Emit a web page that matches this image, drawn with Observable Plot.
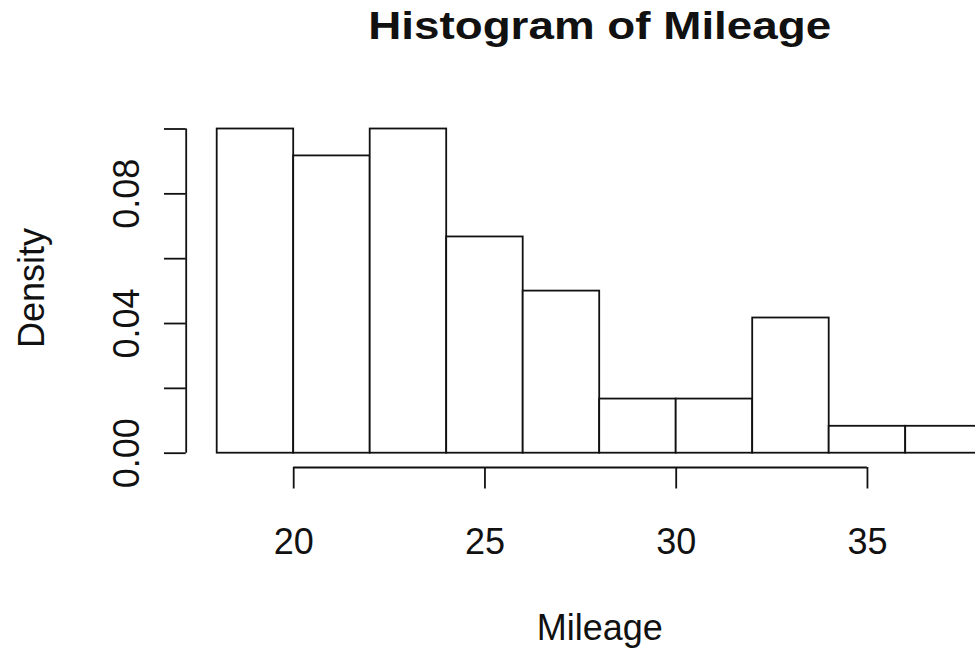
<!DOCTYPE html>
<html>
<head>
<meta charset="utf-8">
<script src="https://cdn.jsdelivr.net/npm/d3@7"></script>
<script src="https://cdn.jsdelivr.net/npm/@observablehq/plot@0.6"></script>
<style>
  html, body { margin: 0; padding: 0; background: #fff; overflow: hidden; }
</style>
</head>
<body>
<div id="chart"></div>
<script>
// ---- data ----
const binEdges = [18, 20, 22, 24, 26, 28, 30, 32, 34, 36, 38];
const densities = [0.1, 0.0917, 0.1, 0.0667, 0.05, 0.0167, 0.0167, 0.0417, 0.0083, 0.0083];
const xTicks = [20, 25, 30, 35];
const yTicks = [0, 0.02, 0.04, 0.06, 0.08, 0.10];
const yLabelTicks = [0, 0.04, 0.08];
const titleText = "Histogram of Mileage";
const xLabelText = "Mileage";
const yLabelText = "Density";

// ---- layout ----
const W = 975, H = 650;
const plotLeft = 185.7, plotTop = 128.5, plotBottom = 452.7;
const xRange = [216.7, 981.7];
const ink = "#111";
const lw = 1.8;
const font = "'Liberation Sans', Arial, Helvetica, sans-serif";

const bins = densities.map((d, i) => ({x1: binEdges[i], x2: binEdges[i + 1], density: d}));
const xMid = (binEdges[0] + binEdges[binEdges.length - 1]) / 2;

const chart = Plot.plot({
  width: W,
  height: H,
  marginLeft: plotLeft,
  marginRight: 0,
  marginTop: plotTop,
  marginBottom: H - plotBottom,
  style: {fontFamily: font, color: ink, background: "#fff"},
  x: {domain: [binEdges[0], binEdges[binEdges.length - 1]], range: xRange, axis: null, label: null},
  y: {domain: [yTicks[0], yTicks[yTicks.length - 1]], range: [plotBottom, plotTop], axis: null, label: null},
  marks: [
    Plot.rectY(bins, {x1: "x1", x2: "x2", y: "density", fill: "#fff", stroke: ink, strokeWidth: lw, inset: 0}),
    // x axis (R style, offset below the bars)
    Plot.ruleY([0], {x1: xTicks[0], x2: xTicks[xTicks.length - 1], dy: 14.3, stroke: ink, strokeWidth: lw}),
    Plot.axisX({ticks: xTicks, tickSize: 21.5, dy: 14.3, tickFormat: () => "", label: null, stroke: ink, strokeWidth: lw}),
    Plot.text(xTicks, {x: d => d, text: d => String(d), frameAnchor: "bottom", lineAnchor: "middle", dy: 89.1, fontSize: 36, fill: ink}),
    // y axis
    Plot.ruleX([binEdges[0]], {y1: yTicks[0], y2: yTicks[yTicks.length - 1], dx: plotLeft - xRange[0], stroke: ink, strokeWidth: lw}),
    Plot.axisY({ticks: yTicks, tickSize: 21.7, tickFormat: () => "", label: null, stroke: ink, strokeWidth: lw}),
    Plot.text(yLabelTicks, {y: d => d, text: d => d.toFixed(2), frameAnchor: "left", rotate: -90, textAnchor: "middle", lineAnchor: "middle", dx: -59.2, fontSize: 36, fill: ink}),
    // titles
    Plot.text([titleText], {x: () => xMid, text: d => d, frameAnchor: "top", lineAnchor: "middle", dy: -102.8, fontSize: 39.5, fontWeight: "bold", fill: ink}),
    Plot.text([xLabelText], {x: () => xMid, text: d => d, frameAnchor: "bottom", lineAnchor: "middle", dy: 174.9, fontSize: 36, fill: ink}),
    Plot.text([yLabelText], {text: d => d, frameAnchor: "left", rotate: -90, textAnchor: "middle", lineAnchor: "middle", dx: -154.1, dy: -3, fontSize: 36, fill: ink})
  ]
});

// stretch the title to the reference's measured width
chart.querySelectorAll("text").forEach(t => {
  if (t.textContent === titleText) {
    t.setAttribute("textLength", 463);
    t.setAttribute("lengthAdjust", "spacingAndGlyphs");
  }
});

document.getElementById("chart").appendChild(chart);
</script>
</body>
</html>
